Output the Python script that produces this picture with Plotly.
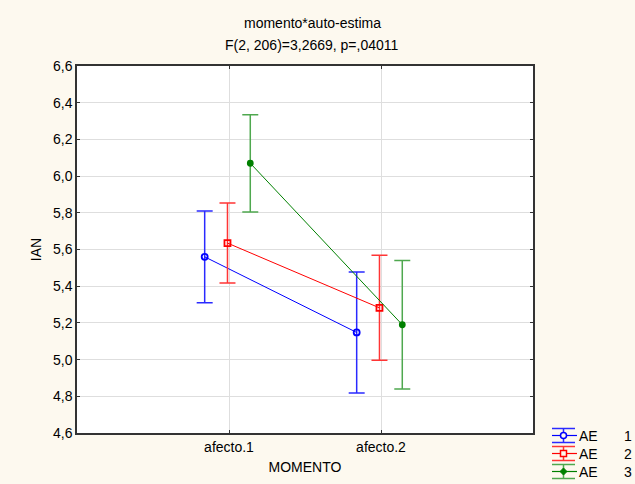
import plotly.graph_objects as go

# Factor levels and group means with confidence half-widths
momento = ["afecto.1", "afecto.2"]
grupos = ["1", "2", "3"]
medias = {
    "1": [5.56, 5.148],
    "2": [5.635, 5.282],
    "3": [6.07, 5.19],
}
erros = {
    "1": [0.25, 0.33],
    "2": [0.218, 0.286],
    "3": [0.265, 0.35],
}
y_ticks = [4.6, 4.8, 5.0, 5.2, 5.4, 5.6, 5.8, 6.0, 6.2, 6.4, 6.6]

# Styling per group: horizontal dodge, line colour, error-bar colour, marker
estilos = {
    "1": dict(dx=-0.16, cor="#0000ff", cor_err="#2a2aff", simbolo="circle-open", tam=6),
    "2": dict(dx=-0.01, cor="#ff0000", cor_err="#ff3535", simbolo="square-open", tam=6),
    "3": dict(dx=0.14, cor="#008000", cor_err="#4fa84f", simbolo="circle", tam=5),
}

W, H = 635, 484
M_L, M_R, M_T, M_B = 77, 102, 66, 51
PW, PH = W - M_L - M_R, H - M_T - M_B
FONT = "Liberation Sans, Arial, sans-serif"


def px(xp):
    """Pixel x -> paper x."""
    return (xp - M_L) / PW


def py(yp):
    """Pixel y -> paper y."""
    return (H - M_B - yp) / PH


fig = go.Figure()
for g in grupos:
    s = estilos[g]
    xs = [i + 1 + s["dx"] for i in range(len(momento))]
    fig.add_trace(go.Scatter(
        x=xs, y=medias[g],
        mode="lines+markers",
        name="AE " + g,
        showlegend=False,
        line=dict(color=s["cor"], width=1),
        marker=dict(symbol=s["simbolo"], size=s["tam"], color=s["cor"],
                    line=dict(color=s["cor"], width=1.8)),
        error_y=dict(type="data", array=erros[g], visible=True,
                     color=s["cor_err"], thickness=1.5, width=8),
    ))

fmt = lambda v: f"{v:.1f}".replace(".", ",")

fig.update_layout(
    width=W, height=H,
    margin=dict(l=M_L, r=M_R, t=M_T, b=M_B),
    paper_bgcolor="#fdf9ef",
    plot_bgcolor="#ffffff",
    font=dict(family=FONT, size=14, color="#000000"),
    showlegend=False,
    xaxis=dict(
        range=[0, 3], tickmode="array", tickvals=[1, 2], ticktext=momento,
        showgrid=True, gridcolor="#dedede", gridwidth=1,
        showline=True, linecolor="#333333", linewidth=1.5, mirror="ticks",
        ticks="inside", ticklen=3, tickcolor="#333333",
        zeroline=False,
        title=dict(text="MOMENTO", standoff=9, font=dict(size=14)),
    ),
    yaxis=dict(
        range=[4.6, 6.6], tickmode="array", tickvals=y_ticks,
        ticktext=[fmt(v) for v in y_ticks],
        showgrid=True, gridcolor="#dedede", gridwidth=1,
        showline=True, linecolor="#333333", linewidth=1.5, mirror="ticks",
        ticks="inside", ticklen=3, tickcolor="#333333",
        zeroline=False,
        title=dict(text="IAN", standoff=8, font=dict(size=14)),
    ),
)

# Two-line heading
fig.add_annotation(text="momento*auto-estima", xref="paper", yref="paper",
                   x=px(312), y=py(23), xanchor="center", yanchor="middle",
                   showarrow=False, font=dict(size=14))
fig.add_annotation(text="F(2, 206)=3,2669, p=,04011", xref="paper", yref="paper",
                   x=px(312), y=py(45), xanchor="center", yanchor="middle",
                   showarrow=False, font=dict(size=14))

# Legend drawn with error-bar style keys
shapes = []
for k, g in enumerate(grupos):
    s = estilos[g]
    yc = 435.5 + 18 * k
    x0, x1, xm = 552, 575, 563.5
    line = dict(color=s["cor"], width=1.2)
    err = dict(color=s["cor_err"], width=1.5)
    shapes.append(dict(type="line", xref="paper", yref="paper",
                       x0=px(x0), x1=px(x1 + 2), y0=py(yc), y1=py(yc), line=line))
    for dy in (-7, 7):
        shapes.append(dict(type="line", xref="paper", yref="paper",
                           x0=px(x0), x1=px(x1), y0=py(yc + dy), y1=py(yc + dy), line=err))
    shapes.append(dict(type="line", xref="paper", yref="paper",
                       x0=px(xm), x1=px(xm), y0=py(yc - 7), y1=py(yc + 7), line=err))
    if g == "1":
        shapes.append(dict(type="circle", xref="paper", yref="paper",
                           x0=px(xm - 3), x1=px(xm + 3), y0=py(yc - 3), y1=py(yc + 3),
                           line=dict(color=s["cor"], width=1.5), fillcolor="#fdf9ef"))
    elif g == "2":
        shapes.append(dict(type="rect", xref="paper", yref="paper",
                           x0=px(xm - 3), x1=px(xm + 3), y0=py(yc - 3), y1=py(yc + 3),
                           line=dict(color=s["cor"], width=1.5), fillcolor="#fdf9ef"))
    else:
        path = (f"M {px(xm - 3.5)},{py(yc)} L {px(xm)},{py(yc - 3.5)} "
                f"L {px(xm + 3.5)},{py(yc)} L {px(xm)},{py(yc + 3.5)} Z")
        shapes.append(dict(type="path", xref="paper", yref="paper", path=path,
                           line=dict(color=s["cor"], width=1), fillcolor=s["cor"]))
    fig.add_annotation(text="AE", xref="paper", yref="paper", x=px(577), y=py(yc),
                       xanchor="left", yanchor="middle", showarrow=False,
                       font=dict(size=14))
    fig.add_annotation(text=g, xref="paper", yref="paper", x=px(628), y=py(yc),
                       xanchor="center", yanchor="middle", showarrow=False,
                       font=dict(size=14))

fig.update_layout(shapes=shapes)

fig.write_html("out.html")
